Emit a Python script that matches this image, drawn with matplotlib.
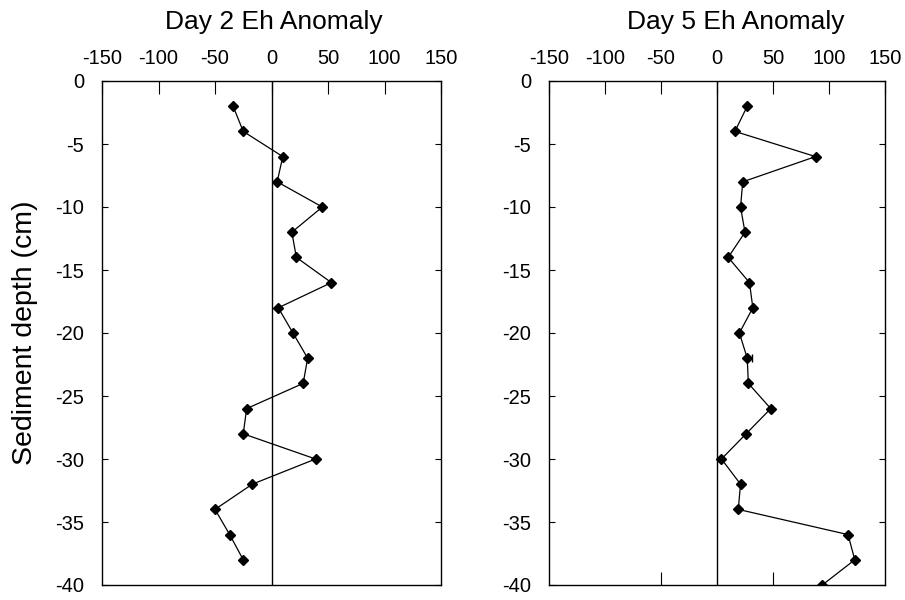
import matplotlib
matplotlib.use("Agg")
import matplotlib.pyplot as plt

plt.rcParams['font.family'] = ['Liberation Sans', 'DejaVu Sans']
plt.rcParams['axes.unicode_minus'] = False

# Data
day2_depth = [-2, -4, -6, -8, -10, -12, -14, -16, -18, -20, -22, -24, -26, -28, -30, -32, -34, -36, -38]
day2_eh = [-34, -25, 10, 5, 45, 18, 22, 53, 6, 19, 32, 28, -22, -25, 39, -17, -50, -37, -25]

day5_depth = [-2, -4, -6, -8, -10, -12, -14, -16, -18, -20, -22, -24, -26, -28, -30, -32, -34, -36, -38, -40]
day5_eh = [27, 16, 88, 23, 21, 25, 10, 29, 32, 20, 27, 28, 48, 26, 4, 21, 19, 117, 123, 94]

day5_err_depth = [-22]
day5_err_eh = [27]
day5_err_lo = [0]
day5_err_hi = [4]

x_ticks = [-150, -100, -50, 0, 50, 100, 150]
y_ticks = [0, -5, -10, -15, -20, -25, -30, -35, -40]
titles = ["Day 2 Eh Anomaly", "Day 5 Eh Anomaly"]
ylabel = "Sediment depth (cm)"

W, H = 905, 600
fig = plt.figure(figsize=(W / 100, H / 100), dpi=100)

def px_axes(x0, x1, ytop, ybot):
    return fig.add_axes([x0 / W, 1 - ybot / H, (x1 - x0) / W, (ybot - ytop) / H])

ax1 = px_axes(102, 441, 81, 585)
ax2 = px_axes(549, 885, 81, 585)

def style(ax, xs, ys, title, title_x):
    ax.axvline(0, color='black', lw=1.0, zorder=1)
    ax.plot(xs, ys, color='black', lw=0.9, marker='D', markersize=5.2,
            markerfacecolor='black', markeredgecolor='black', zorder=3)
    ax.set_xlim(-150, 150)
    ax.set_ylim(-40, 0)
    ax.set_xticks(x_ticks)
    ax.set_yticks(y_ticks)
    ax.xaxis.tick_top()
    ax.tick_params(axis='x', which='both', direction='in', length=9.5, width=0.8,
                   top=True, bottom=False, labeltop=True, labelbottom=False,
                   labelsize=14.5, pad=9)
    ax.tick_params(axis='y', which='both', direction='in', length=4, width=0.8,
                   left=True, right=True, labelleft=True, labelright=False,
                   labelsize=14.5, pad=13)
    for s in ax.spines.values():
        s.set_linewidth(1.0)
    fig.text(title_x / W, 1 - 22 / H, title, ha='center', va='center', fontsize=19)

style(ax1, day2_eh, day2_depth, titles[0], 274)
style(ax2, day5_eh, day5_depth, titles[1], 736)

ax2.errorbar(day5_err_eh, day5_err_depth, xerr=[day5_err_lo, day5_err_hi], fmt='none',
             ecolor='black', elinewidth=0.8, capsize=3, zorder=2)

# bottom ticks visible only at +/-50 on the right panel
sec = ax2.secondary_xaxis('bottom')
sec.set_xticks([-50, 50])
sec.tick_params(direction='in', length=9.5, width=0.8, labelbottom=False)
sec.spines['bottom'].set_visible(False)

fig.text(25 / W, 1 - 333 / H, ylabel, rotation=90, ha='center', va='center', fontsize=20.5)

fig.savefig("out.png", dpi=100)
